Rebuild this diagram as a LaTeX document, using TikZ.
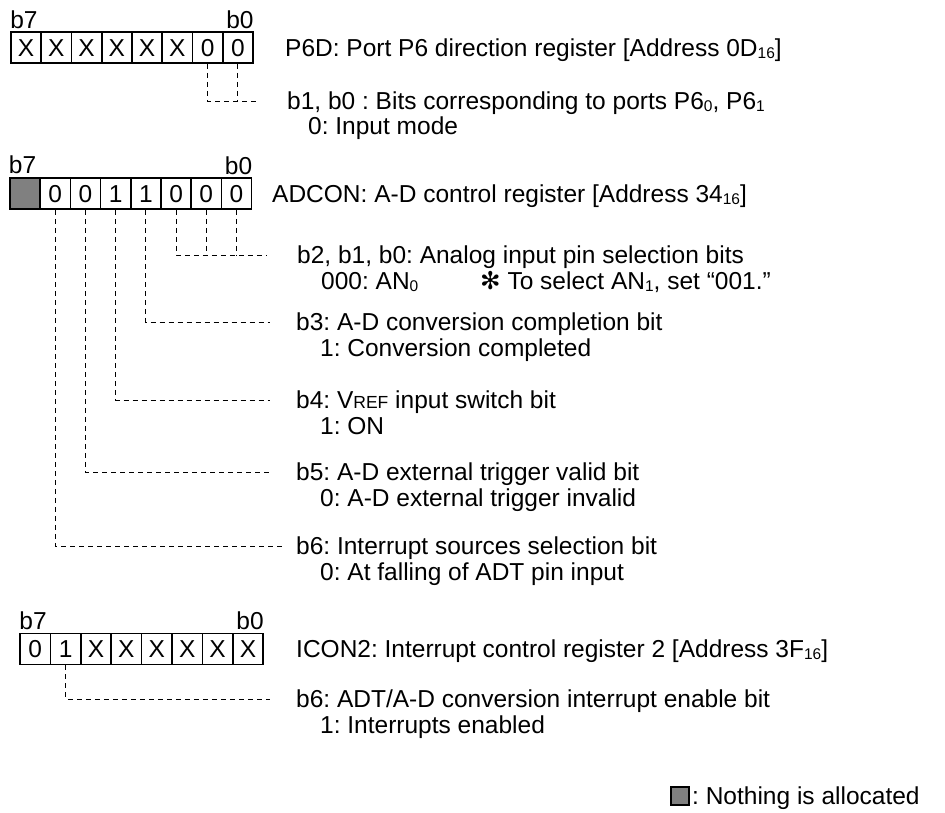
\documentclass[tikz,border=0pt]{standalone}
\usepackage{fontspec}
\setmainfont{Liberation Sans}
\newfontfamily\symfont{DejaVu Sans}
\usetikzlibrary{positioning}

\newcommand{\lowidx}[1]{\raisebox{-2pt}{\fontsize{15.5}{16}\selectfont #1}}
\newcommand{\smcap}[1]{{\fontsize{17.5}{18}\selectfont #1}}

\tikzset{
  cell/.style={draw, line width=1.6pt, minimum width=30.25pt, minimum height=31pt,
    inner sep=0pt, text height=17pt, text depth=0pt},
  nobit/.style={cell, fill=gray, line width=2.4pt},
  lead/.style={line width=0.9pt, dash pattern=on 5pt off 4pt},
  txt/.style={anchor=west, inner sep=0pt, text height=17pt, text depth=0pt},
  bitlbl/.style={inner sep=0pt},
}

\begin{document}
\frenchspacing
\begin{tikzpicture}[x=1pt, y=-1pt, font=\fontsize{24.5}{28}\selectfont]

\useasboundingbox (0, 0) rectangle (945, 812);

% P6D register
\foreach \v [count=\i from 0, evaluate=\i as \b using int(7-\i)] in {X,X,X,X,X,X,0,0}
  \node[cell] (p6d-b\b) at (26.1+30.25*\i, 47.5) {\v};
\node[bitlbl, anchor=base west] (p6d-hi) at ([yshift=3pt]p6d-b7.north west) {b7};
\node[bitlbl, anchor=base east] (p6d-lo) at ([yshift=3pt]p6d-b0.north east) {b0};
\node[txt] (p6d-name) at (285, 47.5) {P6D: Port P6 direction register [Address 0D\lowidx{16}]};

\coordinate (p6d-e0) at (258, 101);
\draw[lead] (p6d-b1.south) |- (p6d-e0);
\draw[lead] (p6d-b0.south) -- (p6d-b0.south |- p6d-e0);
\node[txt] (p6d-t0) at (287, 101) {b1, b0 : Bits corresponding to ports P6\lowidx{0}, P6\lowidx{1}};
\node[txt] (p6d-t0b) at (308, 126) {0: Input mode};

% ADCON register
\node[nobit] (adc-b7) at (25.1, 193.5) {};
\foreach \v [count=\i from 1, evaluate=\i as \b using int(7-\i)] in {0,0,1,1,0,0,0}
  \node[cell] (adc-b\b) at (25.1+30.2*\i, 193.5) {\v};
\node[bitlbl, anchor=base west] (adc-hi) at ([yshift=3pt]adc-b7.north west) {b7};
\node[bitlbl, anchor=base east] (adc-lo) at ([yshift=3pt]adc-b0.north east) {b0};
\node[txt] (adc-name) at (272, 193.5) {ADCON: A-D control register [Address 34\lowidx{16}]};

% dashed leads of ADCON
\coordinate (adc-e2) at (266, 255);
\coordinate (adc-e3) at (270, 322);
\coordinate (adc-e4) at (270, 400);
\coordinate (adc-e5) at (270, 472);
\coordinate (adc-e6) at (283, 546);
\draw[lead] (adc-b2.south) |- (adc-e2);
\draw[lead] (adc-b1.south) -- (adc-b1.south |- adc-e2);
\draw[lead] (adc-b0.south) -- (adc-b0.south |- adc-e2);
\draw[lead] (adc-b3.south) |- (adc-e3);
\draw[lead] (adc-b4.south) |- (adc-e4);
\draw[lead] (adc-b5.south) |- (adc-e5);
\draw[lead] (adc-b6.south) |- (adc-e6);

% ADCON bit texts
\node[txt] (adc-t2) at (297, 255) {b2, b1, b0: Analog input pin selection bits};
\node[txt] (adc-t2b) at (321, 281) {000: AN\lowidx{0}};
\node[txt] (adc-note) at (480, 281) {{\symfont ✻} To select AN\lowidx{1}, set “001.”};
\node[txt] (adc-t3) at (296, 322) {b3: A-D conversion completion bit};
\node[txt] (adc-t3b) at (320, 348) {1: Conversion completed};
\node[txt] (adc-t4) at (296, 400) {b4: V\smcap{REF} input switch bit};
\node[txt] (adc-t4b) at (320, 426) {1: ON};
\node[txt] (adc-t5) at (296, 472) {b5: A-D external trigger valid bit};
\node[txt] (adc-t5b) at (320, 498) {0: A-D external trigger invalid};
\node[txt] (adc-t6) at (296, 546) {b6: Interrupt sources selection bit};
\node[txt] (adc-t6b) at (320, 572) {0: At falling of ADT pin input};

% ICON2 register
\foreach \v [count=\i from 0, evaluate=\i as \b using int(7-\i)] in {0,1,X,X,X,X,X,X}
  \node[cell] (ico-b\b) at (35.2+30.4*\i, 649) {\v};
\node[bitlbl, anchor=base west] (ico-hi) at ([yshift=3pt]ico-b7.north west) {b7};
\node[bitlbl, anchor=base east] (ico-lo) at ([yshift=3pt]ico-b0.north east) {b0};
\node[txt] (ico-name) at (296, 649) {ICON2: Interrupt control register 2 [Address 3F\lowidx{16}]};

\coordinate (ico-e6) at (270, 699);
\draw[lead] (ico-b6.south) |- (ico-e6);
\node[txt] (ico-t6) at (296, 699) {b6: ADT/A-D conversion interrupt enable bit};
\node[txt] (ico-t6b) at (320, 725) {1: Interrupts enabled};

% Legend
\node[nobit, minimum width=18pt, minimum height=18pt, line width=2pt] (key) at (679.5, 796) {};
\node[txt] (key-txt) at (692, 796) {: Nothing is allocated};

\end{tikzpicture}
\end{document}
